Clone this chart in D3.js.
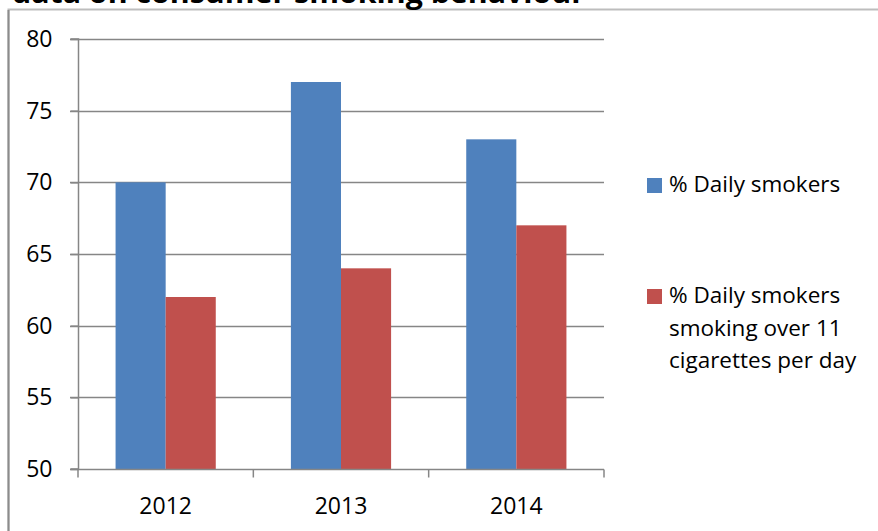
<!DOCTYPE html>
<html>
<head>
<meta charset="utf-8">
<script src="https://cdn.jsdelivr.net/npm/d3@7"></script>
<style>
  html, body { margin: 0; padding: 0; background: #fff; }
  svg { display: block; }
  text { font-family: "Open Sans", "Noto Sans", sans-serif; fill: #000; }
</style>
</head>
<body>
<svg id="chart" width="878" height="531"></svg>
<script>
// Data
const years = ["2012", "2013", "2014"];
const seriesNames = ["% Daily smokers", "% Daily smokers smoking over 11 cigarettes per day"];
const dailySmokers = [70, 77, 73];
const heavySmokers = [62, 64, 67];
const yTicks = [50, 55, 60, 65, 70, 75, 80];
const titleText = "data on consumer smoking behaviour";
const legendLines = [["% Daily smokers"], ["% Daily smokers", "smoking over 11", "cigarettes per day"]];
const colors = ["#4F81BD", "#C0504D"];

const svg = d3.select("#chart");
const W = 878, H = 531;
const plot = { left: 78, right: 604, top: 39, bottom: 469 };

// Chart frame
svg.append("path")
  .attr("d", `M8.5,${H} V9.5 H${W}`)
  .attr("fill", "none").attr("stroke", "#bdbdbd").attr("stroke-width", 2);
svg.append("line")
  .attr("x1", 8.5).attr("x2", 8.5).attr("y1", 10).attr("y2", H)
  .attr("stroke", "#8c8c8c").attr("stroke-width", 2);

// Title (runs off the top edge of the page)
svg.append("text")
  .attr("x", 12).attr("y", 3)
  .attr("font-family", "Liberation Sans, Arial, sans-serif")
  .attr("font-weight", "bold")
  .attr("font-size", 28)
  .attr("textLength", 573)
  .attr("lengthAdjust", "spacingAndGlyphs")
  .text(titleText);

// Scales
const x = d3.scaleBand().domain(years).range([plot.left, plot.right]).padding(0);
const xSub = d3.scaleBand().domain([0, 1]).range([0, x.bandwidth()])
  .paddingInner(0).paddingOuter(0.75);
const y = d3.scaleLinear().domain([50, 80]).range([plot.bottom, plot.top]);

// Gridlines
svg.append("g").selectAll("line").data(yTicks.slice(1)).join("line")
  .attr("x1", plot.left - 8).attr("x2", plot.right)
  .attr("y1", d => Math.round(y(d)) + 0.5).attr("y2", d => Math.round(y(d)) + 0.5)
  .attr("stroke", "#868686").attr("stroke-width", 1.5);

// Bars
const rows = years.map((yr, i) => ({ yr, vals: [dailySmokers[i], heavySmokers[i]] }));
const groups = svg.append("g").selectAll("g").data(rows).join("g")
  .attr("transform", d => `translate(${x(d.yr)},0)`);
groups.selectAll("rect").data(d => d.vals.map((v, k) => ({ v, k }))).join("rect")
  .attr("x", d => xSub(d.k))
  .attr("width", xSub.bandwidth())
  .attr("y", d => y(d.v))
  .attr("height", d => y(50) - y(d.v))
  .attr("fill", d => colors[d.k]);

// Y axis
const yAxis = svg.append("g")
  .attr("transform", `translate(${plot.left + 0.5},0)`)
  .call(d3.axisLeft(y).tickValues(yTicks).tickSize(8).tickPadding(18));
yAxis.select(".domain").attr("stroke", "#868686").attr("stroke-width", 1.5).attr("d", `M-8,${plot.bottom}H0V${plot.top}H-8`);
yAxis.selectAll(".tick line").attr("stroke", "#868686").attr("stroke-width", 1.5);
yAxis.selectAll(".tick text").attr("font-size", 23).attr("font-family", "Open Sans, sans-serif").attr("fill", "#000");

// X axis
const xAxis = svg.append("g").attr("transform", `translate(0,${plot.bottom + 0.5})`);
xAxis.append("line").attr("x1", plot.left - 8).attr("x2", plot.right)
  .attr("stroke", "#868686").attr("stroke-width", 1.5);
const bounds = years.map(yr => x(yr)).concat([plot.right]);
xAxis.selectAll("line.tk").data(bounds).join("line").attr("class", "tk")
  .attr("x1", d => d).attr("x2", d => d).attr("y1", 0).attr("y2", 8)
  .attr("stroke", "#868686").attr("stroke-width", 1.5);
xAxis.selectAll("text").data(years).join("text")
  .attr("x", d => x(d) + x.bandwidth() / 2)
  .attr("y", 44)
  .attr("text-anchor", "middle")
  .attr("font-size", 23)
  .text(d => d);

// Legend
const legendY = [192, 303];
const legend = svg.append("g").selectAll("g").data(seriesNames).join("g");
legend.append("rect")
  .attr("x", 647).attr("y", (d, i) => legendY[i] - 14)
  .attr("width", 15).attr("height", 15)
  .attr("fill", (d, i) => colors[i]);
legend.append("text")
  .attr("x", 669).attr("y", (d, i) => legendY[i])
  .attr("font-size", 22.5)
  .selectAll("tspan").data((d, i) => legendLines[i]).join("tspan")
  .attr("x", 669).attr("dy", (d, j) => j === 0 ? 0 : 32.5)
  .text(d => d);
</script>
</body>
</html>
